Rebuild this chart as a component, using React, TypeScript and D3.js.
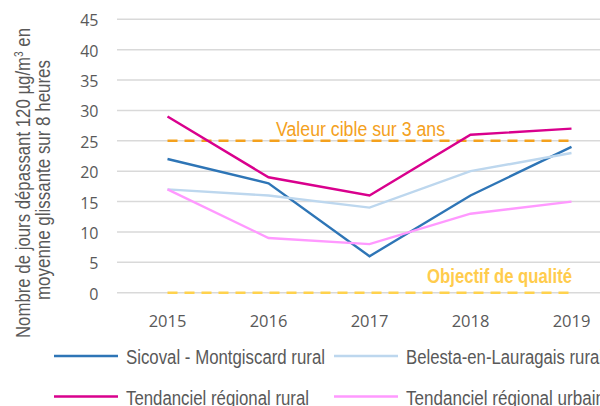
import React from "react";
import * as d3 from "d3";

const years = ["2015", "2016", "2017", "2018", "2019"];
const sicoval = [22, 18, 6, 16, 24];
const belesta = [17, 16, 14, 20, 23];
const tendRural = [29, 19, 16, 26, 27];
const tendUrbain = [17, 9, 8, 13, 15];
const yTicks = [0, 5, 10, 15, 20, 25, 30, 35, 40, 45];
const cibleValue = 25;
const objectifValue = 0;

const series = [
  { name: "Sicoval - Montgiscard rural", values: sicoval, color: "#2e75b6", len: 199 },
  { name: "Belesta-en-Lauragais rural", values: belesta, color: "#bdd7ee", len: 197 },
  { name: "Tendanciel régional rural", values: tendRural, color: "#d9008d", len: 183 },
  { name: "Tendanciel régional urbain", values: tendUrbain, color: "#ff99ff", len: 199 },
];

const narrow = "'Liberation Sans', Arial, sans-serif";
const tickFont = "'Open Sans', Carlito, Calibri, sans-serif";

export default function App() {
  const W = 600, H = 406;
  const x = d3.scaleBand().domain(years).range([117, 622]);
  const y = d3.scaleLinear().domain([0, 45]).range([292.7, 19.3]);
  const cx = (yr: string) => (x(yr) as number) + x.bandwidth() / 2;
  const line = d3.line<number>().x((_, i) => cx(years[i])).y((v) => y(v));

  const legendPos = [
    { lx: 54, ly: 356 },
    { lx: 334, ly: 356 },
    { lx: 54, ly: 396.5 },
    { lx: 334, ly: 396.5 },
  ];

  return (
    <svg width={W} height={H} style={{ position: "absolute", left: 0, top: 0, background: "#fff" }}>
      {yTicks.map((t) => (
        <g key={t}>
          <line x1={117} x2={W} y1={y(t)} y2={y(t)} stroke="#d9d9d9" strokeWidth={1.5} />
          <text x={98.5} y={y(t) + 7} textAnchor="end" fontFamily={tickFont} fontSize={16} fill="#595959">
            {t}
          </text>
        </g>
      ))}
      {years.map((yr) => (
        <text key={yr} x={cx(yr)} y={327} textAnchor="middle" fontFamily={tickFont} fontSize={16.5} fill="#595959">
          {yr}
        </text>
      ))}
      <g fontFamily={narrow} fontSize={20} fill="#595959" textAnchor="middle">
        <text transform="translate(30,183) rotate(-90)" textLength={310} lengthAdjust="spacingAndGlyphs">
          Nombre de jours dépassant 120 µg/m<tspan dy={-7} fontSize={12}>3</tspan><tspan dy={7}> en</tspan>
        </text>
        <text transform="translate(50,180) rotate(-90)" textLength={240} lengthAdjust="spacingAndGlyphs">
          moyenne glissante sur 8 heures
        </text>
      </g>
      <line x1={cx(years[0])} x2={cx(years[4])} y1={y(cibleValue)} y2={y(cibleValue)} stroke="#f4a11d" strokeWidth={2.5} strokeDasharray="10,7" />
      <line x1={cx(years[0])} x2={cx(years[4])} y1={y(objectifValue)} y2={y(objectifValue)} stroke="#ffd24d" strokeWidth={2.5} strokeDasharray="10,7" />
      <text x={276} y={136} fontFamily={narrow} fontSize={20} fill="#f4a11d" textLength={169} lengthAdjust="spacingAndGlyphs">
        Valeur cible sur 3 ans
      </text>
      <text x={427} y={283} fontFamily={narrow} fontSize={20} fontWeight="bold" fill="#ffcc4d" textLength={145} lengthAdjust="spacingAndGlyphs">
        Objectif de qualité
      </text>
      {series.map((s) => (
        <path key={s.name} d={line(s.values) || ""} fill="none" stroke={s.color} strokeWidth={2.4} />
      ))}
      {series.map((s, i) => (
        <g key={s.name}>
          <line x1={legendPos[i].lx} x2={legendPos[i].lx + 64} y1={legendPos[i].ly} y2={legendPos[i].ly} stroke={s.color} strokeWidth={2.4} />
          <text x={legendPos[i].lx + 72} y={legendPos[i].ly + 8} fontFamily={narrow} fontSize={20} fill="#595959" textLength={s.len} lengthAdjust="spacingAndGlyphs">
            {s.name}
          </text>
        </g>
      ))}
    </svg>
  );
}
